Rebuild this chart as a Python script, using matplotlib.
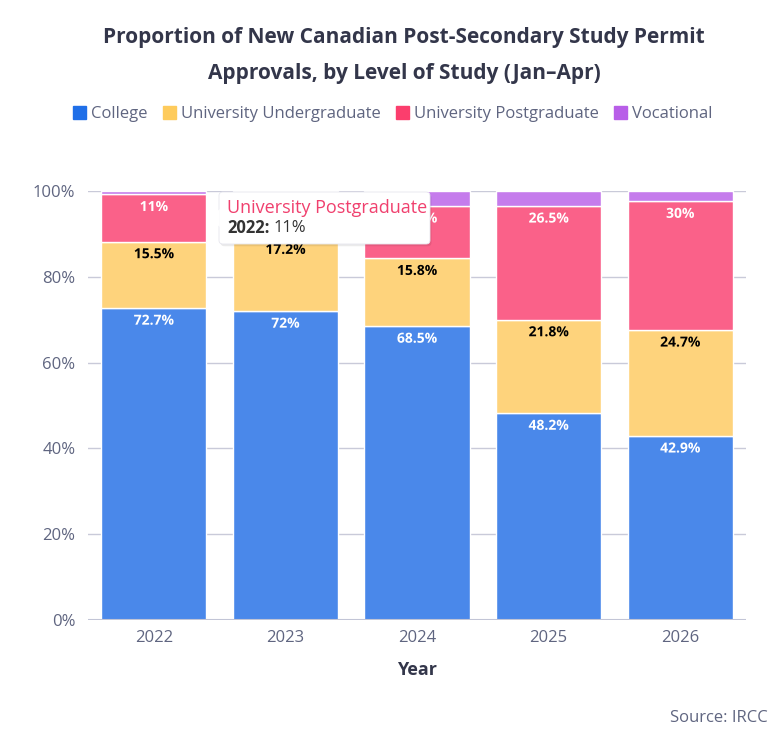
import numpy as np
import matplotlib
matplotlib.use('Agg')
import matplotlib.pyplot as plt
import matplotlib.patheffects as pe
from matplotlib.patches import Patch, FancyBboxPatch, Polygon

plt.rcParams['font.family'] = ['Open Sans', 'DejaVu Sans']

# ---------------- data ----------------
years = ['2022', '2023', '2024', '2025', '2026']
levels = ['College', 'University Undergraduate', 'University Postgraduate', 'Vocational']
college = [72.7, 72.0, 68.5, 48.2, 42.9]
undergrad = [15.5, 17.2, 15.8, 21.8, 24.7]
postgrad = [11.0, 10.3, 12.2, 26.5, 30.0]
vocational = [0.8, 0.5, 3.5, 3.5, 2.4]

bar_colors = ['#4a88ea', '#fed37c', '#fa6189', '#c57cec']
legend_colors = ['#1f6fe8', '#fecb5c', '#fb3e6d', '#b85ee8']
text_dark = '#33364a'
text_grey = '#5f6580'

W, H = 781, 742
fig = plt.figure(figsize=(W / 100, H / 100), dpi=100)
ax = fig.add_axes([88 / W, 1 - 620 / H, (746 - 88) / W, (620 - 191) / H])

x = np.arange(len(years))
series = [college, undergrad, postgrad, vocational]
bottom = np.zeros(len(years))
for k, vals in enumerate(series):
    ax.bar(x, vals, bottom=bottom, width=0.8, color=bar_colors[k],
           edgecolor='white', linewidth=1, zorder=3)
    tops = bottom + np.array(vals)
    # value labels (not for vocational)
    if k < 3:
        for i, v in enumerate(vals):
            if k == 2 and i == 1:
                continue  # hidden under tooltip
            lbl = ('%.1f' % v).rstrip('0').rstrip('.') + '%'
            if k == 1:
                col, halo = 'black', bar_colors[1]
            else:
                col, halo = 'white', bar_colors[k]
            ax.annotate(lbl, (x[i], tops[i]), xytext=(0, -4), textcoords='offset points',
                        ha='center', va='top', fontsize=10, fontweight='bold', color=col,
                        zorder=5,
                        path_effects=[pe.withStroke(linewidth=2.5, foreground=halo)])
    bottom = tops

ax.set_xlim(-0.5, 4.5)
ax.set_ylim(0, 100)
ax.set_yticks([0, 20, 40, 60, 80, 100])
ax.set_yticklabels(['0%', '20%', '40%', '60%', '80%', '100%'])
ax.set_xticks(x)
ax.set_xticklabels(years)
ax.grid(axis='y', color='#c9cad9', linewidth=1, zorder=0)
ax.set_axisbelow(True)
for s in ax.spines.values():
    s.set_visible(False)
ax.axhline(0, color='#c2c5d6', linewidth=1.5, zorder=4)
ax.tick_params(axis='both', length=0, labelsize=12, colors=text_grey)
ax.tick_params(axis='x', pad=7)
ax.tick_params(axis='y', pad=9)
ax.set_xlabel('Year', fontsize=13, fontweight='bold', color=text_dark, labelpad=11)

# ---------------- title / legend / source ----------------
fig.text(404 / W, 1 - 37 / H, 'Proportion of New Canadian Post-Secondary Study Permit',
         ha='center', va='center', fontsize=15, fontweight='bold', color=text_dark)
fig.text(404 / W, 1 - 73 / H, 'Approvals, by Level of Study (Jan\u2013Apr)',
         ha='center', va='center', fontsize=15, fontweight='bold', color=text_dark)

handles = [Patch(facecolor=c, edgecolor=c) for c in legend_colors]
leg = fig.legend(handles, levels, loc='center', bbox_to_anchor=(393 / W, 1 - 114 / H),
                 ncol=4, frameon=False, fontsize=12, handlelength=0.8, handleheight=0.8,
                 handletextpad=0.3, columnspacing=0.9)
for t in leg.get_texts():
    t.set_color(text_grey)

fig.text(768 / W, 1 - 718 / H, 'Source: IRCC', ha='right', va='center',
         fontsize=12, color=text_grey)

# ---------------- tooltip ----------------
tx0, ty0, tx1, ty1 = 219, 192, 430, 244
shadow = FancyBboxPatch((tx0 / W + 0.002, 1 - ty1 / H - 0.003), (tx1 - tx0) / W, (ty1 - ty0) / H,
                        boxstyle='round,pad=0,rounding_size=0.005', transform=fig.transFigure,
                        facecolor='#000000', alpha=0.08, edgecolor='none', zorder=9)
box = FancyBboxPatch((tx0 / W, 1 - ty1 / H), (tx1 - tx0) / W, (ty1 - ty0) / H,
                     boxstyle='round,pad=0,rounding_size=0.005', transform=fig.transFigure,
                     facecolor='white', edgecolor='#e6e6ee', linewidth=0.6, zorder=10)
arrow = Polygon([(tx0 / W + 0.001, 1 - 209 / H), (209 / W, 1 - 218 / H), (tx0 / W + 0.001, 1 - 227 / H)],
                closed=True, transform=fig.transFigure, facecolor='white', edgecolor='none', zorder=11)
fig.patches.extend([shadow, box, arrow])
fig.text(227 / W, 1 - 208 / H, 'University Postgraduate', ha='left', va='center',
         fontsize=13, color='#f0406e', zorder=12)
fig.text(227 / W, 1 - 228 / H, '2022:', ha='left', va='center',
         fontsize=12, fontweight='bold', color='#333333', zorder=12)
fig.text(274 / W, 1 - 228 / H, '11%', ha='left', va='center',
         fontsize=12, color='#333333', zorder=12)

fig.savefig('out.png', dpi=100, facecolor='white')
